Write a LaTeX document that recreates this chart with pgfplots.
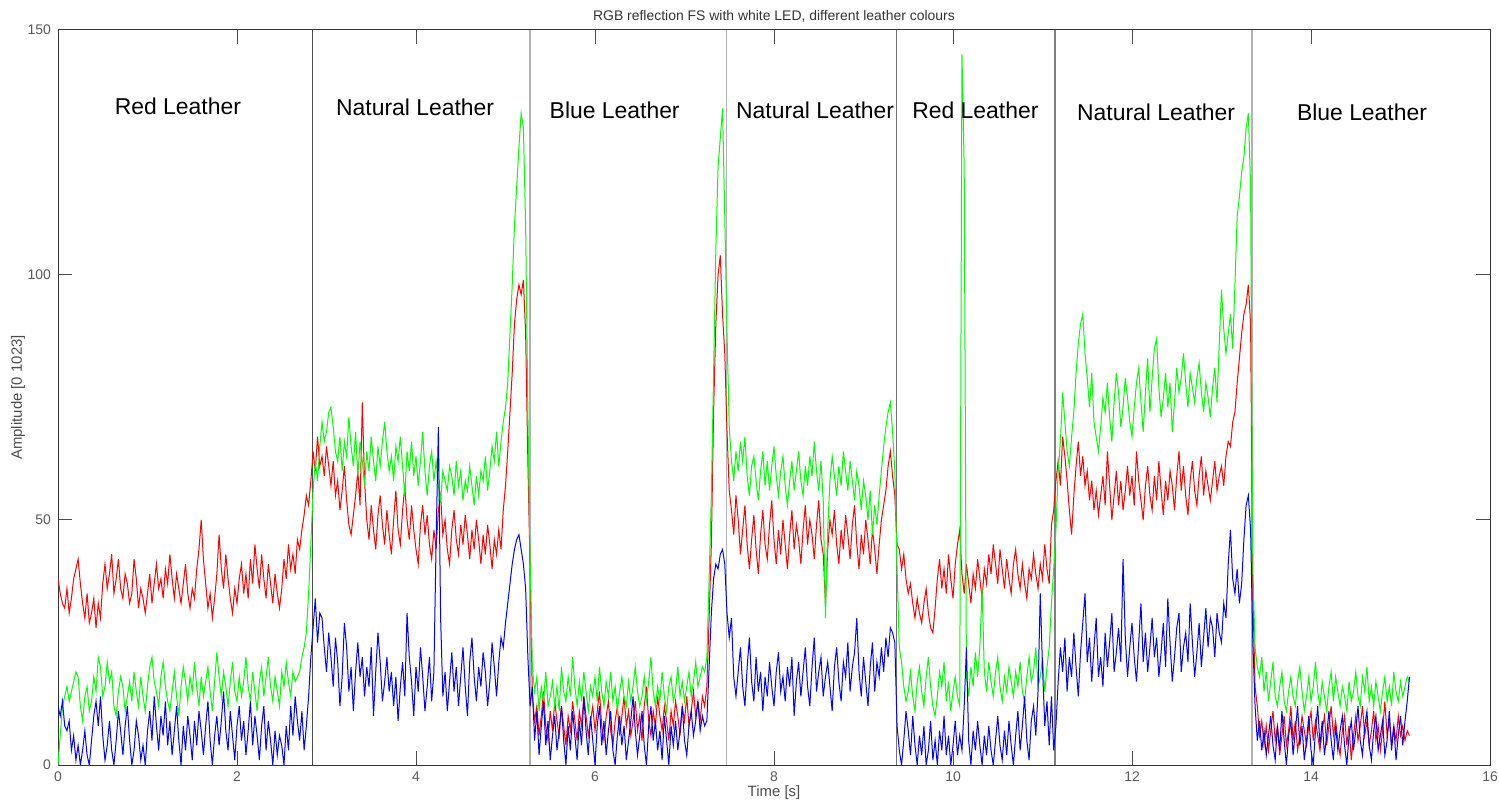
\documentclass[border=0pt]{standalone}
\usepackage{fontspec}
\setmainfont{Liberation Sans}
\usepackage{pgfplots}
\usepackage{pgfplotstable}
\pgfplotsset{compat=1.18}

\definecolor{chR}{RGB}{255,0,0}
\definecolor{chG}{RGB}{0,255,0}
\definecolor{chB}{RGB}{0,0,255}

% time [s], red, green, blue channel amplitudes
\pgfplotstableread{
t r g b
0.000 38 0 12
0.025 35 6 10
0.050 33 12 13
0.075 32 14 8
0.100 36 16 7
0.125 31 13 9
0.150 34 15 3
0.175 38 17 6
0.200 40 19 1
0.225 42 18 4
0.250 37 12 0
0.275 33 9 3
0.300 30 14 7
0.325 35 16 2
0.350 29 11 0
0.375 31 13 5
0.400 34 18 10
0.425 28 15 13
0.450 33 22 8
0.475 30 20 14
0.500 37 14 6
0.525 41 16 1
0.550 36 21 4
0.575 39 17 9
0.600 43 19 3
0.625 35 12 0
0.650 38 10 5
0.675 42 15 11
0.700 36 18 7
0.725 34 16 2
0.750 39 11 8
0.775 37 14 12
0.800 33 17 5
0.825 35 13 0
0.850 42 19 3
0.875 38 15 9
0.900 32 12 6
0.925 36 18 1
0.950 34 14 4
0.975 31 11 0
1.000 35 16 7
1.025 39 20 11
1.050 33 22 5
1.075 37 17 14
1.100 41 15 8
1.125 36 12 3
1.150 38 18 10
1.175 34 21 6
1.200 40 16 13
1.225 37 13 4
1.250 43 11 9
1.275 38 15 2
1.300 34 19 7
1.325 39 14 12
1.350 36 10 5
1.375 33 16 0
1.400 37 20 8
1.425 41 17 3
1.450 35 13 10
1.475 32 18 6
1.500 36 15 1
1.525 34 21 9
1.550 40 16 4
1.575 44 12 11
1.600 50 18 7
1.625 42 14 2
1.650 37 17 8
1.675 32 20 13
1.700 35 15 5
1.725 30 11 0
1.750 34 17 6
1.775 39 23 10
1.800 47 18 4
1.825 40 14 9
1.850 36 19 15
1.875 43 16 7
1.900 38 12 3
1.925 34 17 11
1.950 31 21 6
1.975 36 15 1
2.000 33 13 8
2.025 38 18 12
2.050 41 14 5
2.075 35 17 9
2.100 39 22 2
2.125 34 16 7
2.150 42 13 13
2.175 37 19 4
2.200 45 15 10
2.225 40 11 6
2.250 36 17 1
2.275 43 20 8
2.300 38 14 12
2.325 34 18 3
2.350 41 22 9
2.375 37 16 5
2.400 33 13 0
2.425 39 18 7
2.450 35 15 2
2.475 32 12 6
2.500 36 19 4
2.525 42 16 0
2.550 38 21 8
2.575 45 17 3
2.600 40 14 12
2.625 43 19 6
2.650 39 17 14
2.675 46 18 9
2.700 44 19 5
2.725 48 22 11
2.750 51 24 3
2.775 55 27 8
2.800 53 35 14
2.825 58 45 22
2.850 64 56 28
2.875 60 62 34
2.900 67 58 25
2.925 61 65 31
2.950 63 70 30
2.975 59 66 24
3.000 65 68 19
3.025 61 72 27
3.050 57 73 22
3.075 62 69 16
3.100 55 64 26
3.125 58 62 21
3.150 52 67 12
3.175 56 60 18
3.200 61 66 29
3.225 54 63 24
3.250 49 71 15
3.275 47 65 20
3.300 51 61 11
3.325 55 68 19
3.350 60 59 25
3.375 53 66 18
3.400 74 62 22
3.425 58 57 14
3.450 50 64 20
3.475 46 60 16
3.500 53 67 24
3.525 48 62 10
3.550 44 58 19
3.575 51 65 27
3.600 55 61 21
3.625 49 66 13
3.650 45 70 17
3.675 52 64 22
3.700 47 60 15
3.725 43 63 19
3.750 50 58 12
3.775 56 65 18
3.800 48 62 9
3.825 45 67 16
3.850 52 61 21
3.875 57 55 14
3.900 50 64 31
3.925 46 60 22
3.950 53 66 17
3.975 48 59 10
4.000 44 63 20
4.025 41 57 15
4.050 49 62 24
4.075 53 68 18
4.100 47 60 11
4.125 51 55 16
4.150 45 61 22
4.175 42 64 13
4.200 48 58 19
4.225 44 62 46
4.250 52 57 69
4.275 55 54 30
4.300 47 60 14
4.325 50 58 19
4.350 44 56 11
4.375 41 61 17
4.400 48 59 23
4.425 52 55 15
4.450 46 62 20
4.475 43 57 12
4.500 49 60 18
4.525 45 54 24
4.550 51 58 16
4.575 47 56 10
4.600 42 61 21
4.625 48 57 26
4.650 44 53 18
4.675 50 59 13
4.700 46 55 20
4.725 41 60 16
4.750 47 58 23
4.775 43 63 19
4.800 49 56 12
4.825 45 60 17
4.850 40 65 25
4.875 46 62 20
4.900 43 68 14
4.925 48 61 21
4.950 44 66 26
4.975 52 70 24
5.000 57 73 29
5.025 64 78 33
5.050 72 88 37
5.075 80 98 41
5.100 90 110 44
5.125 95 118 46
5.150 98 126 47
5.175 96 133 44
5.200 99 130 41
5.225 88 110 36
5.250 62 72 22
5.275 40 42 12
5.300 14 20 16
5.325 9 15 5
5.350 12 18 11
5.375 6 11 2
5.400 10 16 8
5.425 15 13 13
5.450 8 19 4
5.475 5 12 9
5.500 11 14 1
5.525 7 17 6
5.550 13 12 10
5.575 9 16 3
5.600 6 11 7
5.625 12 20 12
5.650 8 15 5
5.675 4 13 0
5.700 10 18 8
5.725 7 14 3
5.750 13 22 11
5.775 9 16 6
5.800 5 12 1
5.825 11 17 9
5.850 8 13 4
5.875 14 19 14
5.900 10 15 7
5.925 6 11 2
5.950 9 16 10
5.975 12 14 5
6.000 7 18 0
6.025 11 13 8
6.050 15 20 12
6.075 8 15 4
6.100 5 12 9
6.125 10 17 2
6.150 13 14 7
6.175 7 19 11
6.200 4 13 3
6.225 9 16 0
6.250 12 11 6
6.275 6 15 10
6.300 10 18 4
6.325 14 14 8
6.350 8 12 1
6.375 11 17 5
6.400 6 13 9
6.425 9 16 14
6.450 13 20 7
6.475 7 15 2
6.500 10 12 6
6.525 5 14 11
6.550 12 18 4
6.575 16 13 0
6.600 9 17 8
6.625 6 22 12
6.650 11 15 5
6.675 8 12 9
6.700 14 16 3
6.725 10 13 7
6.750 7 19 1
6.775 12 14 10
6.800 9 11 5
6.825 5 16 0
6.850 11 18 8
6.875 8 13 4
6.900 13 15 9
6.925 10 20 3
6.950 6 14 7
6.975 12 17 12
7.000 9 13 5
7.025 14 16 2
7.050 8 19 8
7.075 11 14 11
7.100 15 17 6
7.125 10 21 9
7.150 13 16 13
7.175 9 18 7
7.200 14 20 10
7.225 12 19 8
7.250 16 22 9
7.275 30 38 20
7.300 45 55 31
7.325 72 80 38
7.350 90 105 41
7.375 100 122 40
7.400 104 128 43
7.425 92 134 44
7.450 84 112 41
7.475 68 88 31
7.500 56 69 26
7.525 52 62 30
7.550 47 58 18
7.575 55 64 14
7.600 50 60 19
7.625 43 66 24
7.650 48 62 16
7.675 53 67 12
7.700 45 59 20
7.725 40 55 26
7.750 46 61 17
7.775 51 63 13
7.800 44 58 22
7.825 39 54 15
7.850 47 60 19
7.875 52 64 11
7.900 45 57 18
7.925 42 62 14
7.950 49 56 21
7.975 54 61 16
8.000 46 65 12
8.025 41 59 19
8.050 48 55 23
8.075 43 60 15
8.100 50 63 18
8.125 45 57 13
8.150 40 53 20
8.175 47 58 16
8.200 52 62 22
8.225 44 56 10
8.250 49 60 17
8.275 46 64 21
8.300 41 58 14
8.325 48 55 19
8.350 53 61 24
8.375 45 57 16
8.400 50 63 12
8.425 47 59 20
8.450 42 66 26
8.475 49 60 15
8.500 54 56 19
8.525 46 62 22
8.550 43 54 14
8.575 33 30 18
8.600 44 48 21
8.625 50 58 16
8.650 47 63 11
8.675 52 59 20
8.700 45 55 24
8.725 41 61 17
8.750 48 57 13
8.775 44 64 21
8.800 51 60 18
8.825 47 56 25
8.850 42 62 15
8.875 49 58 20
8.900 53 54 23
8.925 45 60 30
8.950 40 57 19
8.975 47 52 14
9.000 43 58 22
9.025 50 55 17
9.050 46 50 12
9.075 41 56 20
9.100 48 47 25
9.125 44 53 15
9.150 39 49 21
9.175 45 55 18
9.200 50 60 24
9.225 53 65 19
9.250 56 69 26
9.275 61 72 22
9.300 64 74 28
9.325 59 68 27
9.350 55 60 25
9.375 45 40 8
9.400 44 24 3
9.425 40 21 0
9.450 43 16 5
9.475 38 13 11
9.500 35 15 7
9.525 37 19 2
9.550 33 14 10
9.575 30 11 4
9.600 34 17 0
9.625 31 20 6
9.650 29 15 2
9.675 33 12 8
9.700 36 18 0
9.725 31 22 3
9.750 28 16 9
9.775 27 12 1
9.800 32 10 5
9.825 38 14 0
9.850 42 19 7
9.875 36 16 3
9.900 40 21 10
9.925 35 13 2
9.950 43 17 6
9.975 38 11 0
10.000 34 15 4
10.025 41 18 9
10.050 45 14 2
10.075 48 12 6
10.100 39 145 3
10.125 35 122 12
10.150 41 18 24
10.175 37 14 5
10.200 33 20 0
10.225 39 16 7
10.250 36 23 3
10.275 42 18 9
10.300 38 24 4
10.325 34 36 0
10.350 40 19 6
10.375 37 15 2
10.400 43 21 8
10.425 39 17 3
10.450 45 14 0
10.475 41 19 5
10.500 37 22 10
10.525 44 16 4
10.550 40 13 1
10.575 36 18 7
10.600 42 15 2
10.625 38 20 9
10.650 35 17 4
10.675 41 14 0
10.700 44 19 6
10.725 39 16 11
10.750 36 21 3
10.775 41 15 8
10.800 37 13 14
10.825 34 18 5
10.850 40 22 1
10.875 38 17 9
10.900 43 19 12
10.925 39 24 6
10.950 36 16 15
10.975 41 18 35
11.000 38 22 20
11.025 45 15 8
11.050 40 20 13
11.075 37 24 4
11.100 49 33 14
11.125 52 40 3
11.150 58 48 8
11.175 62 60 17
11.200 57 66 24
11.225 67 76 19
11.250 63 70 26
11.275 58 64 15
11.300 52 61 22
11.325 47 67 18
11.350 55 72 27
11.375 61 80 20
11.400 66 86 14
11.425 59 90 23
11.450 63 92 29
11.475 57 84 35
11.500 60 79 21
11.525 54 73 26
11.550 58 80 17
11.575 52 70 24
11.600 56 67 30
11.625 51 64 18
11.650 55 69 22
11.675 59 75 16
11.700 53 72 27
11.725 64 78 20
11.750 57 71 25
11.775 50 66 31
11.800 55 74 19
11.825 60 80 23
11.850 53 76 28
11.875 58 69 21
11.900 52 73 42
11.925 56 79 26
11.950 61 75 18
11.975 55 70 24
12.000 59 67 29
12.025 53 73 22
12.050 64 78 17
12.075 58 81 25
12.100 54 74 33
12.125 50 68 21
12.150 57 76 27
12.175 61 83 19
12.200 55 72 24
12.225 52 79 30
12.250 59 85 22
12.275 54 87 26
12.300 62 77 18
12.325 56 71 23
12.350 51 75 29
12.375 58 80 20
12.400 54 73 34
12.425 60 78 25
12.450 57 68 17
12.475 52 74 22
12.500 59 81 28
12.525 64 76 31
12.550 56 79 19
12.575 61 84 24
12.600 55 78 27
12.625 51 73 21
12.650 58 80 33
12.675 62 77 25
12.700 56 74 18
12.725 53 79 23
12.750 59 82 29
12.775 63 76 20
12.800 55 72 26
12.825 60 78 32
12.850 57 75 24
12.875 54 71 30
12.900 58 77 28
12.925 62 81 22
12.950 56 74 31
12.975 59 86 27
13.000 61 97 25
13.025 57 89 33
13.050 63 84 30
13.075 66 88 41
13.100 65 92 48
13.125 70 85 38
13.150 72 98 35
13.175 78 112 40
13.200 83 116 33
13.225 88 121 37
13.250 92 124 46
13.275 94 130 53
13.300 98 133 55
13.325 90 118 48
13.350 35 40 25
13.375 16 24 12
13.400 12 20 5
13.425 6 18 9
13.450 9 22 3
13.475 4 15 7
13.500 8 19 2
13.525 3 13 6
13.550 7 17 10
13.575 11 21 4
13.600 5 14 1
13.625 8 12 8
13.650 2 16 3
13.675 6 19 11
13.700 10 13 5
13.725 4 11 0
13.750 7 15 6
13.775 12 18 9
13.800 5 14 2
13.825 9 12 7
13.850 3 17 12
13.875 6 20 4
13.900 10 15 8
13.925 7 11 1
13.950 4 14 5
13.975 8 18 10
14.000 11 13 3
14.025 5 16 0
14.050 9 21 7
14.075 6 15 12
14.100 3 12 4
14.125 7 17 9
14.150 10 14 2
14.175 4 11 6
14.200 8 16 11
14.225 12 19 5
14.250 6 13 1
14.275 9 18 8
14.300 5 15 3
14.325 2 12 7
14.350 7 16 10
14.375 10 14 4
14.400 4 11 0
14.425 8 17 6
14.450 1 13 9
14.475 6 15 3
14.500 10 19 7
14.525 5 14 12
14.550 8 12 5
14.575 12 18 2
14.600 6 15 8
14.625 9 20 11
14.650 4 13 4
14.675 7 16 1
14.700 11 12 7
14.725 5 17 10
14.750 8 14 3
14.775 3 11 6
14.800 7 15 9
14.825 13 18 2
14.850 6 13 5
14.875 9 16 11
14.900 4 12 3
14.925 8 19 8
14.950 5 15 1
14.975 10 13 6
15.000 6 17 10
15.025 8 14 4
15.050 5 16 9
15.075 7 18 13
15.100 6 17 18
}\rgbdata

\begin{document}
\begin{tikzpicture}
\begin{axis}[
  name=ax,
  scale only axis,
  width=716bp, height=367.5bp,
  xmin=0, xmax=16, ymin=0, ymax=150,
  xtick={0,2,...,16},
  ytick={0,50,100,150},
  tick align=inside,
  tick pos=both,
  major tick length=7bp,
  axis line style={black!80, line width=0.5bp},
  every tick/.style={black!70, line width=0.5bp},
  tick label style={font=\fontsize{7}{8}\selectfont, text=black!65},
  /pgf/number format/assume math mode=true,
  every axis title shift=0pt,
  title={RGB reflection FS with white LED, different leather colours},
  title style={font=\fontsize{7}{8}\selectfont, text=black!80, at={(axis description cs:0.5,1)}, anchor=south, inner sep=0pt, yshift=3.5bp},
  xlabel={Time [s]},
  ylabel={Amplitude [0 1023]},
  label style={font=\fontsize{7.5}{9}\selectfont, text=black!70},
  xlabel style={at={(axis description cs:0.5,-0.038)}, anchor=center},
  ylabel style={at={(axis description cs:-0.028,0.5)}, anchor=center},
  clip=true,
]
% segment separators
\addplot[black!70, line width=0.6bp] coordinates {(2.84,0) (2.84,150)};
\addplot[black!30, line width=0.9bp] coordinates {(5.27,0) (5.27,150)};
\addplot[black!30, line width=0.9bp] coordinates {(7.47,0) (7.47,150)};
\addplot[black!55, line width=0.6bp] coordinates {(9.37,0) (9.37,150)};
\addplot[black!50, line width=0.6bp] coordinates {(11.14,0) (11.14,150)};
\addplot[black!30, line width=0.9bp] coordinates {(13.34,0) (13.34,150)};

% channels
\addplot[chR, line width=0.5bp] table[x=t, y=r] {\rgbdata};
\addplot[chG, line width=0.5bp] table[x=t, y=g] {\rgbdata};
\addplot[chB, line width=0.5bp] table[x=t, y=b] {\rgbdata};

% sample labels
\begin{scope}[every node/.style={font=\fontsize{11.5}{13}\selectfont, text=black}]
\node at (axis cs:1.34,134.5) {Red Leather};
\node at (axis cs:3.99,134.2) {Natural Leather};
\node at (axis cs:6.22,133.7) {Blue Leather};
\node at (axis cs:8.46,133.7) {Natural Leather};
\node at (axis cs:10.25,133.7) {Red Leather};
\node at (axis cs:12.27,133.3) {Natural Leather};
\node at (axis cs:14.57,133.1) {Blue Leather};
\end{scope}
\end{axis}
\pgfresetboundingbox
\useasboundingbox ([shift={(-29bp,-20bp)}]ax.south west) rectangle ([shift={(4.5bp,15bp)}]ax.north east);
\end{tikzpicture}
\end{document}
